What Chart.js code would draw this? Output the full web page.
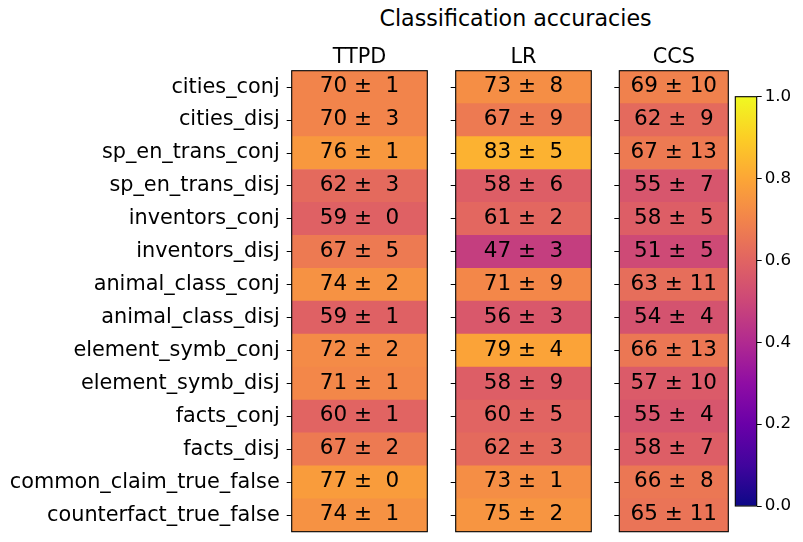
<!DOCTYPE html>
<html>
<head>
<meta charset="utf-8">
<script src="https://cdn.jsdelivr.net/npm/chart.js@4.4.1/dist/chart.umd.min.js"></script>
<style>
  body { margin: 0; background: #fff; width: 803px; height: 542px; position: relative; overflow: hidden; font-family: "DejaVu Sans", sans-serif; }
  canvas { position: absolute; }
  #title { position: absolute; left: 315.5px; width: 400px; top: 5px; text-align: center; font-size: 22.2px; line-height: 26px; color: #000; }
</style>
</head>
<body>
<div id="title">Classification accuracies</div>
<canvas id="ttpd"></canvas>
<canvas id="lr"></canvas>
<canvas id="ccs"></canvas>
<canvas id="cbar"></canvas>
<script>
// rows of the heatmap
const datasetNames = [
  'cities_conj', 'cities_disj', 'sp_en_trans_conj', 'sp_en_trans_disj',
  'inventors_conj', 'inventors_disj', 'animal_class_conj', 'animal_class_disj',
  'element_symb_conj', 'element_symb_disj', 'facts_conj', 'facts_disj',
  'common_claim_true_false', 'counterfact_true_false'
];

const ttpdMean = [70, 70, 76, 62, 59, 67, 74, 59, 72, 71, 60, 67, 77, 74];
const ttpdStd  = [1, 3, 1, 3, 0, 5, 2, 1, 2, 1, 1, 2, 0, 1];
const lrMean   = [73, 67, 83, 58, 61, 47, 71, 56, 79, 58, 60, 62, 73, 75];
const lrStd    = [8, 9, 5, 6, 2, 3, 9, 3, 4, 9, 5, 3, 1, 2];
const ccsMean  = [69, 62, 67, 55, 58, 51, 63, 54, 66, 57, 55, 58, 66, 65];
const ccsStd   = [10, 9, 13, 7, 5, 5, 11, 4, 13, 10, 4, 7, 8, 11];

const cbarTicks = [0, 0.2, 0.4, 0.6, 0.8, 1.0];

// plasma colormap stops
const plasmaStops = ['#0d0887', '#41049d', '#6a00a8', '#8f0da4', '#b12a90', '#cc4778',
                     '#e16462', '#f2844b', '#fca636', '#fcce25', '#f0f921'];

function hexRgb(h) {
  return [parseInt(h.slice(1, 3), 16), parseInt(h.slice(3, 5), 16), parseInt(h.slice(5, 7), 16)];
}

function plasma(t) {
  t = Math.max(0, Math.min(1, t));
  const p = t * (plasmaStops.length - 1);
  const i = Math.min(Math.floor(p), plasmaStops.length - 2);
  const f = p - i;
  const a = hexRgb(plasmaStops[i]), b = hexRgb(plasmaStops[i + 1]);
  const c = a.map((v, k) => Math.round(v + (b[k] - v) * f));
  return 'rgb(' + c.join(',') + ')';
}

const FONT = '"DejaVu Sans", sans-serif';

// cell text, panel frame, column title
const heatPlugin = {
  id: 'heat',
  afterDatasetsDraw(chart, args, opts) {
    const { ctx, chartArea: a } = chart;
    const cx = (a.left + a.right) / 2;
    ctx.save();
    ctx.fillStyle = '#000';
    ctx.textAlign = 'center';
    ctx.textBaseline = 'alphabetic';
    ctx.font = '21.5px ' + FONT;
    chart.getDatasetMeta(0).data.forEach((bar, i) => {
      const s = opts.stds[i];
      const txt = opts.means[i] + ' \u00b1 ' + (s < 10 ? ' ' : '') + s;
      ctx.fillText(txt, cx, bar.y + 5);
    });
    ctx.strokeStyle = '#000';
    ctx.lineWidth = 1.1;
    ctx.strokeRect(a.left, a.top, a.right - a.left, a.bottom - a.top);
    ctx.font = '20.8px ' + FONT;
    ctx.fillText(opts.title, cx, 62.5);
    ctx.restore();
  }
};

function panel(id, left, width, axisW, title, means, stds, showLabels) {
  const cv = document.getElementById(id);
  cv.width = width;
  cv.height = 542;
  cv.style.left = left + 'px';
  cv.style.top = '0px';
  new Chart(cv, {
    type: 'bar',
    data: {
      labels: datasetNames,
      datasets: [{
        data: means.map(() => [0, 1]),
        backgroundColor: means.map(m => plasma(m / 100)),
        borderWidth: 0,
        barPercentage: 1,
        categoryPercentage: 1
      }]
    },
    options: {
      indexAxis: 'y',
      responsive: false,
      animation: false,
      layout: { padding: { top: 70.7, bottom: 10.3, left: 0, right: 0.7 } },
      plugins: {
        legend: { display: false },
        tooltip: { enabled: false },
        heat: { title, means, stds }
      },
      scales: {
        x: { display: false, min: 0, max: 1 },
        y: {
          ticks: { display: showLabels, color: '#000', font: { family: FONT, size: 20.8 }, padding: 7 },
          grid: { drawOnChartArea: false, offset: false, color: '#000', tickLength: 5, lineWidth: 1 },
          border: { display: false },
          afterFit: s => { s.width = axisW; s.paddingTop = 0; s.paddingBottom = 0; }
        }
      }
    },
    plugins: [heatPlugin]
  });
}

panel('ttpd', 0, 428, 291.7, 'TTPD', ttpdMean, ttpdStd, true);
panel('lr', 440, 152.3, 15.7, 'LR', lrMean, lrStd, false);
panel('ccs', 604, 125, 15.3, 'CCS', ccsMean, ccsStd, false);

// colorbar
const frame = {
  id: 'frame',
  afterDatasetsDraw(chart) {
    const { ctx, chartArea: a } = chart;
    ctx.save();
    ctx.strokeStyle = '#000';
    ctx.lineWidth = 1.1;
    ctx.strokeRect(a.left, a.top, a.right - a.left, a.bottom - a.top);
    ctx.restore();
  }
};

const cb = document.getElementById('cbar');
cb.width = 73;
cb.height = 542;
cb.style.left = '730px';
cb.style.top = '0px';
new Chart(cb, {
  type: 'bar',
  data: {
    labels: [''],
    datasets: [{
      data: [[cbarTicks[0], cbarTicks[cbarTicks.length - 1]]],
      backgroundColor: ctx => {
        const a = ctx.chart.chartArea;
        if (!a) return plasmaStops[5];
        const g = ctx.chart.ctx.createLinearGradient(0, a.bottom, 0, a.top);
        plasmaStops.forEach((c, i) => g.addColorStop(i / (plasmaStops.length - 1), c));
        return g;
      },
      borderWidth: 0,
      barPercentage: 1,
      categoryPercentage: 1
    }]
  },
  options: {
    responsive: false,
    animation: false,
    layout: { padding: { top: 96.7, bottom: 36, left: 5.3, right: 0 } },
    plugins: { legend: { display: false }, tooltip: { enabled: false } },
    scales: {
      x: { display: false },
      y: {
        position: 'right',
        min: 0, max: 1,
        afterBuildTicks: s => { s.ticks = cbarTicks.map(v => ({ value: v })); },
        ticks: { color: '#000', font: { family: FONT, size: 16.7 }, padding: 3, callback: v => v.toFixed(1) },
        grid: { drawOnChartArea: false, color: '#000', tickLength: 5 },
        border: { display: false },
        afterFit: s => { s.width = 46.3; s.paddingTop = 0; s.paddingBottom = 0; }
      }
    }
  },
  plugins: [frame]
});
</script>
</body>
</html>
